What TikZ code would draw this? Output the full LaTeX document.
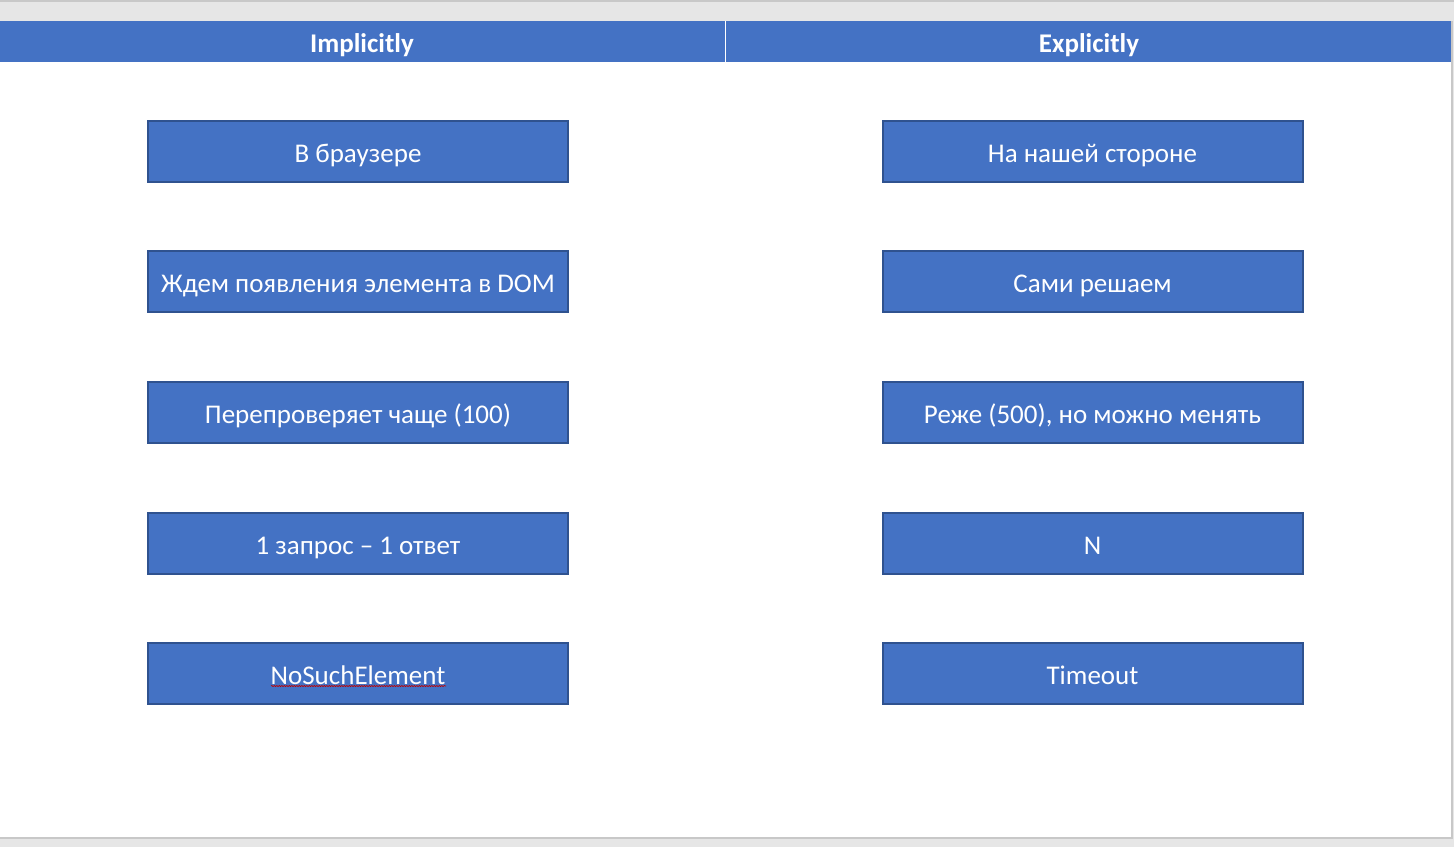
\documentclass[tikz,border=0pt]{standalone}
\usepackage{fontspec}
\setmainfont{Carlito}
\usetikzlibrary{decorations.pathmorphing}
\definecolor{bluefill}{HTML}{4472C4}
\definecolor{blueline}{HTML}{2F528F}
\definecolor{bandgrey}{HTML}{E6E6E6}
\definecolor{edgegrey}{HTML}{C8C8C8}
\tikzset{
  itembox/.style={draw=blueline, line width=2pt, fill=bluefill, text=white,
    minimum width=420pt, minimum height=61pt, inner sep=0pt,
    text height=24pt, text depth=2pt, font=\fontsize{27}{31}\selectfont},
  headbar/.style={fill=bluefill, inner sep=0pt, minimum height=40.5pt},
  headtext/.style={text=white, inner sep=0pt, text height=24pt, text depth=2pt,
    font=\fontsize{27}{31}\selectfont\bfseries},
}
\begin{document}
\begin{tikzpicture}[x=1pt,y=-1pt]
\useasboundingbox (0,0) rectangle (1454,847);
\fill[bandgrey] (0,0) rectangle (1454,847);
\draw[edgegrey, line width=1.5pt] (0,1) -- (1454,1);
\fill[white] (0,21) rectangle (1451,837);
\draw[edgegrey, line width=1.5pt] (1452,21) -- (1452,838) -- (0,838);
% header
\node[headbar, minimum width=724.5pt, anchor=north west] (hl) at (0,21) {};
\node[headbar, minimum width=725pt, anchor=north west] (hr) at (726,21) {};
\node[headtext] (hlt) at (362,41) {Implicitly};
\node[headtext] (hrt) at (1089,41) {Explicitly};
% left column
\node[itembox] (l1) at (358,151) {В браузере};
\node[itembox] (l2) at (358,281.5) {Ждем появления элемента в DOM};
\node[itembox] (l3) at (358,412.5) {Перепроверяет чаще (100)};
\node[itembox] (l4) at (358,543) {1 запрос – 1 ответ};
\node[itembox] (l5) at (358,673.5) {NoSuchElement};
% right column
\node[itembox] (r1) at (1092.5,151) {На нашей стороне};
\node[itembox] (r2) at (1092.5,281.5) {Сами решаем};
\node[itembox] (r3) at (1092.5,412.5) {Реже (500), но можно менять};
\node[itembox] (r4) at (1092.5,543) {N};
\node[itembox] (r5) at (1092.5,673.5) {Timeout};
% spell-check squiggle
\coordinate (sqa) at (271,686);
\coordinate (sqb) at (446,686);
\draw[red!75!black, line width=0.6pt, decorate, decoration={snake, amplitude=0.6pt, segment length=2.5pt}] (sqa) -- (sqb);
\end{tikzpicture}
\end{document}
